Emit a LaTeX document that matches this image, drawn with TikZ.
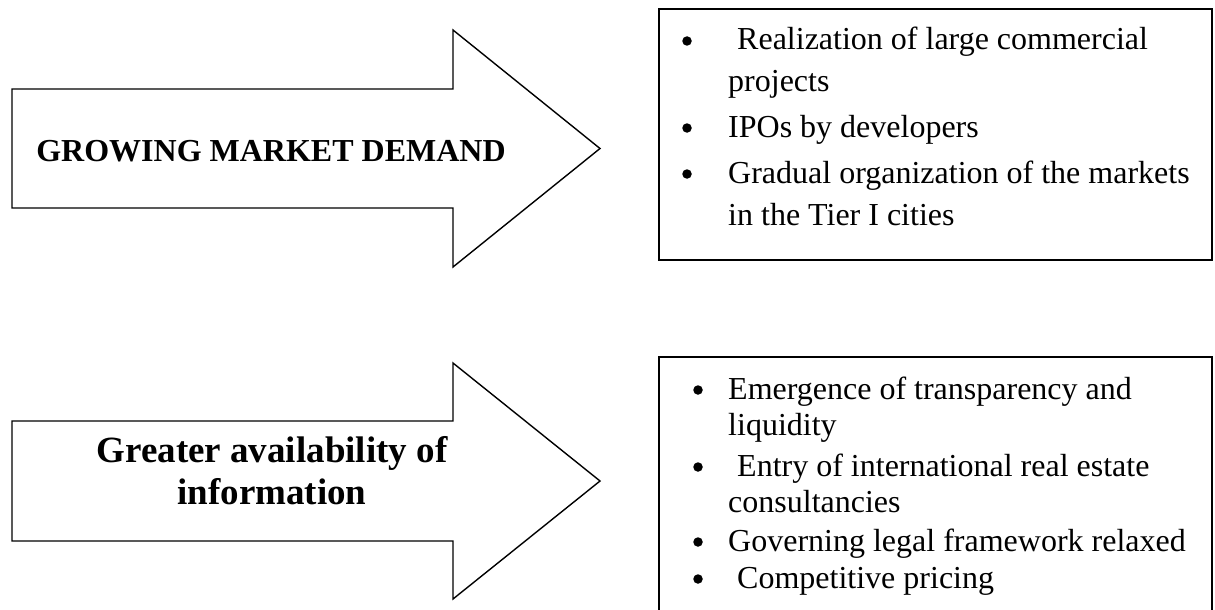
\documentclass[tikz,border=0pt]{standalone}
\usepackage{fontspec}
\setmainfont{Liberation Serif}
\begin{document}
\begin{tikzpicture}[x=1pt, y=-1pt,
                shaft/.style={draw, line width=1.4pt, line join=miter},
                frame/.style={draw, line width=1.8pt},
                label/.style={inner sep=0pt, align=center},
                item/.style={anchor=base west, inner sep=0pt, font=\fontsize{32}{38}\selectfont},
                dot/.style={circle, fill, inner sep=0pt, minimum size=9.5pt}]

    \useasboundingbox (0,0) rectangle (1215,610);

    % upper arrow and its list
    \draw[shaft] (12,89) -- (453,89) -- (453,30) -- (600,148.5) -- (453,267) -- (453,208) -- (12,208) -- cycle;
    \node[label, font=\fontsize{32}{38}\selectfont\bfseries] (demand) at (271,151) {GROWING MARKET DEMAND};

    \draw[frame] (659,9) rectangle (1212,260);
    \node[dot] (d1) at (687,41) {};
    \node[item] (a1) at (737,50) {Realization of large commercial};
    \node[item] (a2) at (728,92) {projects};
    \node[dot] (d2) at (687,128) {};
    \node[item] (a3) at (728,137) {IPOs by developers};
    \node[dot] (d3) at (687,174) {};
    \node[item] (a4) at (728,183) {Gradual organization of the markets};
    \node[item] (a5) at (728,225) {in the Tier I cities};

    % lower arrow and its list
    \draw[shaft] (12,421) -- (453,421) -- (453,363) -- (600,481) -- (453,599) -- (453,541) -- (12,541) -- cycle;
    \node[label, font=\fontsize{37}{42}\selectfont\bfseries] (info) at (272,470.5) {Greater availability of\\information};

    \draw[frame] (659,357) rectangle (1212,625);
    \node[dot] (e1) at (698,390) {};
    \node[item] (b1) at (728,399) {Emergence of transparency and};
    \node[item] (b2) at (728,435) {liquidity};
    \node[dot] (e2) at (698,467) {};
    \node[item] (b3) at (737,476) {Entry of international real estate};
    \node[item] (b4) at (728,512) {consultancies};
    \node[dot] (e3) at (698,542) {};
    \node[item] (b5) at (728,551) {Governing legal framework relaxed};
    \node[dot] (e4) at (698,579) {};
    \node[item] (b6) at (737,588) {Competitive pricing};
\end{tikzpicture}
\end{document}
